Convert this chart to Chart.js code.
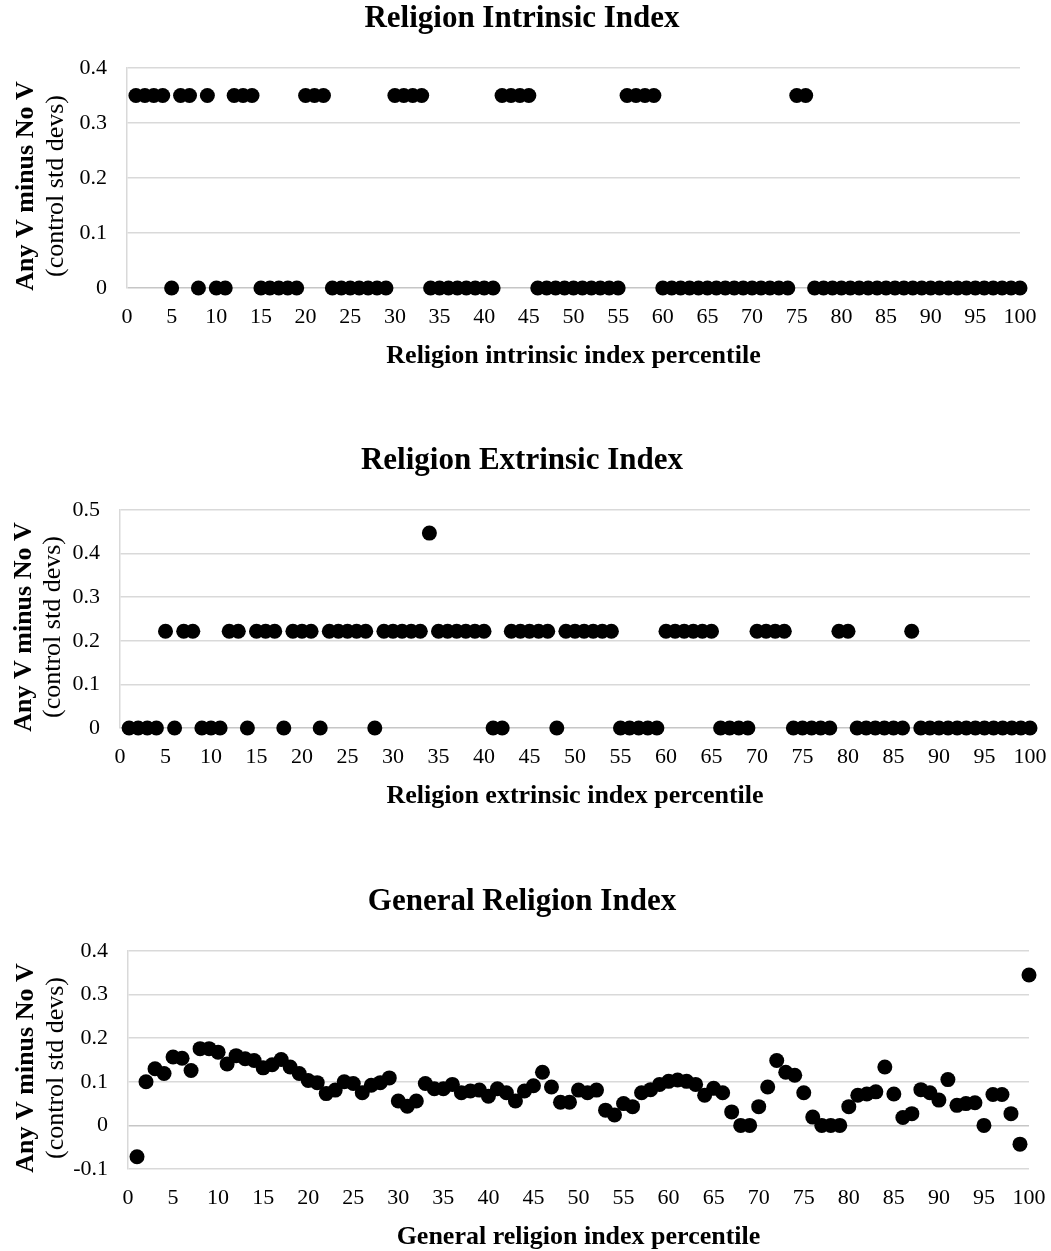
<!doctype html>
<html lang="en">
    <head>
        <meta charset="UTF-8" />
        <title>Religion indices</title>
        <style>
            body { margin: 0; background: #fff; }
            .box { position: absolute; left: 0; width: 1051px; }
        </style>
    </head>
    <body>
        <div class="box" style="top:0px;height:380px"><canvas id="c1"></canvas></div>
        <div class="box" style="top:440px;height:380px"><canvas id="c2"></canvas></div>
        <div class="box" style="top:880px;height:371px"><canvas id="c3"></canvas></div>

        <script src="https://cdn.jsdelivr.net/npm/chart.js"></script>
        <script>
            // data
            const percentiles = [
                1, 2, 3, 4, 5, 6, 7, 8, 9, 10, 11, 12, 13, 14, 15, 16, 17, 18, 19, 20,
                21, 22, 23, 24, 25, 26, 27, 28, 29, 30, 31, 32, 33, 34, 35, 36, 37, 38, 39, 40,
                41, 42, 43, 44, 45, 46, 47, 48, 49, 50, 51, 52, 53, 54, 55, 56, 57, 58, 59, 60,
                61, 62, 63, 64, 65, 66, 67, 68, 69, 70, 71, 72, 73, 74, 75, 76, 77, 78, 79, 80,
                81, 82, 83, 84, 85, 86, 87, 88, 89, 90, 91, 92, 93, 94, 95, 96, 97, 98, 99, 100,
            ];
            const intrinsicValues = [
                0.35, 0.35, 0.35, 0.35, 0, 0.35, 0.35, 0, 0.35, 0,
                0, 0.35, 0.35, 0.35, 0, 0, 0, 0, 0, 0.35,
                0.35, 0.35, 0, 0, 0, 0, 0, 0, 0, 0.35,
                0.35, 0.35, 0.35, 0, 0, 0, 0, 0, 0, 0,
                0, 0.35, 0.35, 0.35, 0.35, 0, 0, 0, 0, 0,
                0, 0, 0, 0, 0, 0.35, 0.35, 0.35, 0.35, 0,
                0, 0, 0, 0, 0, 0, 0, 0, 0, 0,
                0, 0, 0, 0, 0.35, 0.35, 0, 0, 0, 0,
                0, 0, 0, 0, 0, 0, 0, 0, 0, 0,
                0, 0, 0, 0, 0, 0, 0, 0, 0, 0,
            ];
            const extrinsicValues = [
                0, 0, 0, 0, 0.222, 0, 0.222, 0.222, 0, 0,
                0, 0.222, 0.222, 0, 0.222, 0.222, 0.222, 0, 0.222, 0.222,
                0.222, 0, 0.222, 0.222, 0.222, 0.222, 0.222, 0, 0.222, 0.222,
                0.222, 0.222, 0.222, 0.447, 0.222, 0.222, 0.222, 0.222, 0.222, 0.222,
                0, 0, 0.222, 0.222, 0.222, 0.222, 0.222, 0, 0.222, 0.222,
                0.222, 0.222, 0.222, 0.222, 0, 0, 0, 0, 0, 0.222,
                0.222, 0.222, 0.222, 0.222, 0.222, 0, 0, 0, 0, 0.222,
                0.222, 0.222, 0.222, 0, 0, 0, 0, 0, 0.222, 0.222,
                0, 0, 0, 0, 0, 0, 0.222, 0, 0, 0,
                0, 0, 0, 0, 0, 0, 0, 0, 0, 0,
            ];
            const generalValues = [
                -0.072, 0.1, 0.13, 0.119, 0.157, 0.154, 0.126, 0.176, 0.176, 0.168,
                0.141, 0.16, 0.153, 0.149, 0.132, 0.139, 0.151, 0.134, 0.119, 0.103,
                0.098, 0.073, 0.081, 0.1, 0.096, 0.075, 0.092, 0.098, 0.109, 0.056,
                0.044, 0.056, 0.096, 0.084, 0.084, 0.094, 0.075, 0.079, 0.081, 0.067,
                0.084, 0.075, 0.056, 0.079, 0.091, 0.122, 0.088, 0.053, 0.053, 0.081,
                0.075, 0.081, 0.035, 0.024, 0.05, 0.043, 0.075, 0.082, 0.094, 0.101,
                0.104, 0.101, 0.094, 0.069, 0.085, 0.075, 0.031, 0, 0, 0.043,
                0.088, 0.149, 0.122, 0.115, 0.075, 0.019, 0, 0, 0, 0.043,
                0.069, 0.072, 0.077, 0.134, 0.072, 0.018, 0.027, 0.082, 0.075, 0.058,
                0.105, 0.046, 0.05, 0.052, 0, 0.071, 0.071, 0.027, -0.043, 0.345,
            ];
            const yTitleBold = "Any V minus No V";
            const yTitleNormal = "(control std devs)";

            const FONT = "'Liberation Serif', 'Times New Roman', serif";

            // plugin: titles drawn by hand
            const texts = {
                id: "texts",
                afterDraw(chart, args, opts) {
                    const { ctx, chartArea: { left, right, top, bottom } } = chart;
                    ctx.save();
                    ctx.fillStyle = "#000";
                    ctx.textAlign = "center";
                    ctx.textBaseline = "middle";
                    ctx.font = "bold 31px " + FONT;
                    ctx.fillText(opts.title, 522, top - 49);
                    ctx.font = "bold 26px " + FONT;
                    ctx.fillText(opts.xTitle, (left + right) / 2, bottom + 68);
                    const cy = (top + bottom) / 2 + 8;
                    ctx.translate(0, cy);
                    ctx.rotate(-Math.PI / 2);
                    ctx.textBaseline = "alphabetic";
                    ctx.font = "bold 26px " + FONT;
                    ctx.fillText(yTitleBold, 0, opts.yb1);
                    ctx.font = "26px " + FONT;
                    ctx.fillText(yTitleNormal, 0, opts.yb2);
                    ctx.restore();
                },
            };

            function makeChart(id, values, o) {
                const points = percentiles.map((p, i) => ({ x: p, y: values[i] }));
                return new Chart(document.getElementById(id), {
                    type: "scatter",
                    data: {
                        datasets: [{
                            data: points,
                            backgroundColor: "#000",
                            borderWidth: 0,
                            pointRadius: 7.5,
                            pointHoverRadius: 7.5,
                            clip: false,
                        }],
                    },
                    options: {
                        responsive: true,
                        maintainAspectRatio: false,
                        animation: false,
                        events: [],
                        layout: { padding: { top: o.top, right: o.right, left: 0, bottom: 0 } },
                        plugins: {
                            legend: { display: false },
                            tooltip: { enabled: false },
                            texts: { title: o.title, xTitle: o.xTitle, yb1: o.yb1, yb2: o.yb2 },
                        },
                        scales: {
                            x: {
                                type: "linear",
                                min: 0,
                                max: 100,
                                ticks: {
                                    stepSize: 5,
                                    color: "#000",
                                    font: { family: FONT, size: 22 },
                                    padding: 16,
                                    maxRotation: 0,
                                    autoSkip: false,
                                },
                                grid: { display: false, drawTicks: false },
                                border: { display: false },
                                afterFit(s) {
                                    s.height = o.xHeight;
                                    // only half of the last label needs room on the right
                                    s.paddingLeft = 17;
                                    s.paddingRight = 17;
                                },
                            },
                            y: {
                                min: o.yMin,
                                max: o.yMax,
                                ticks: {
                                    stepSize: 0.1,
                                    color: "#000",
                                    font: { family: FONT, size: 22 },
                                    padding: 20,
                                    callback: (v) => String(Math.round(v * 10) / 10),
                                },
                                grid: {
                                    drawTicks: false,
                                    lineWidth: 1.5,
                                    color: (c) => (Math.abs(c.tick.value) < 1e-9 ? "#c6c6c6" : "#d9d9d9"),
                                },
                                border: { display: true, color: "#d9d9d9", width: 1.5 },
                                afterFit(s) { s.width = o.left; },
                            },
                        },
                    },
                    plugins: [texts],
                });
            }

            // init
            makeChart("c1", intrinsicValues, {
                title: "Religion Intrinsic Index",
                xTitle: "Religion intrinsic index percentile",
                yMin: 0, yMax: 0.4,
                top: 68, right: 31, left: 127, xHeight: 92,
                yb1: 33, yb2: 63,
            });
            makeChart("c2", extrinsicValues, {
                title: "Religion Extrinsic Index",
                xTitle: "Religion extrinsic index percentile",
                yMin: 0, yMax: 0.5,
                top: 70, right: 21, left: 120, xHeight: 92,
                yb1: 31, yb2: 60,
            });
            makeChart("c3", generalValues, {
                title: "General Religion Index",
                xTitle: "General religion index percentile",
                yMin: -0.1, yMax: 0.4,
                top: 71, right: 22, left: 128, xHeight: 82,
                yb1: 33, yb2: 63,
            });
        </script>
    </body>
</html>
